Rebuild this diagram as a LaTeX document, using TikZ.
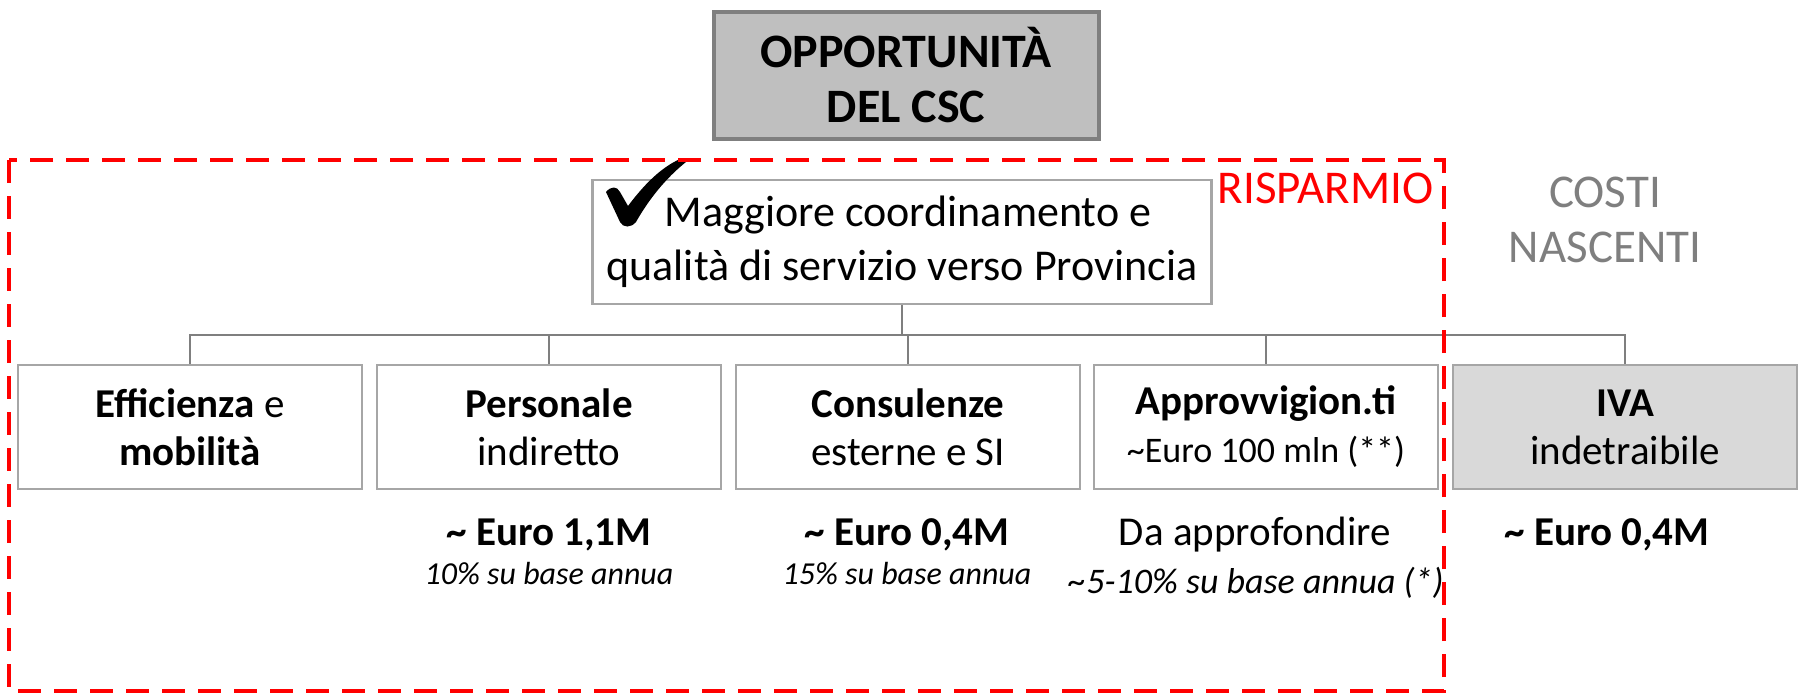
\documentclass[tikz,border=0pt]{standalone}
\usepackage{fontspec}
\setmainfont{Carlito}
\definecolor{boxgray}{HTML}{A6A6A6}
\definecolor{linegray}{HTML}{7F7F7F}
\definecolor{titlefill}{HTML}{BFBFBF}
\definecolor{ivafill}{HTML}{D9D9D9}
\definecolor{rred}{HTML}{FF0000}
\begin{document}
\begin{tikzpicture}[x=1pt,y=-1pt,
  box/.style={draw=boxgray, line width=2.5pt, minimum width=344pt, minimum height=124pt,
    align=center, inner sep=0pt, font=\fontsize{41}{48}\selectfont},
  conn/.style={draw=linegray, line width=2pt},
  amount/.style={font=\bfseries\fontsize{41}{48}\selectfont},
  note/.style={font=\itshape\fontsize{32}{40}\selectfont},
  big/.style={font=\fontsize{47}{55}\selectfont, align=center}]
\useasboundingbox (0,0) rectangle (1800,694);

% title
\node[draw=linegray, line width=4pt, fill=titlefill, minimum width=385pt, minimum height=127pt,
  align=center, font=\bfseries\fontsize{48}{55}\selectfont] (title) at (906,75) {OPPORTUNITÀ\\DEL CSC};

% labels
\node[big, anchor=base east, text=rred] (ris) at (1437,203) {RISPARMIO};
\node[big, text=linegray] (costi) at (1605,220) {COSTI\\NASCENTI};

% main box
\node[draw=boxgray, line width=2.5pt, minimum width=619pt, minimum height=124pt, align=center,
  inner sep=0pt, font=\fontsize{44}{54}\selectfont] (mag) at (902,242)
  {\hspace*{12pt}Maggiore coordinamento e\\qualità di servizio verso Provincia};
% check mark
\fill (606,192) .. controls (611,186) and (617,186) .. (620,192) -- (628,206)
  .. controls (643,186) and (660,168) .. (680,159) -- (686,162)
  .. controls (666,178) and (649,199) .. (636,222)
  .. controls (631,228) and (623,228) .. (620,222) -- cycle;

% boxes
\node[box] (b1) at (190,427) {\textbf{Efficienza} e\\\textbf{mobilità}};
\node[box] (b2) at (549,427) {\textbf{Personale}\\indiretto};
\node[box] (b3) at (908,427) {\textbf{Consulenze}\\esterne e SI};
\node[box] (b4) at (1266,427) {\textbf{Approvvigion.ti}\\{\fontsize{36}{48}\selectfont\textasciitilde Euro 100 mln (**)}};
\node[box, fill=ivafill] (b5) at (1625,427) {\textbf{IVA}\\indetraibile};

% connectors
\coordinate (j) at (902,335);
\draw[conn] (mag.south) -- (j);
\draw[conn] (b1.north) |- (j) -| (b5.north);
\draw[conn] (b2.north) -- (b2.north |- j);
\draw[conn] (b3.north) -- (b3.north |- j);
\draw[conn] (b4.north) -- (b4.north |- j);

% amounts
\node[amount] (a2) at (549,535) {\textasciitilde{} Euro 1,1M};
\node[note] (n2) at (549,574) {10\% su base annua};
\node[amount] (a3) at (907,535) {\textasciitilde{} Euro 0,4M};
\node[note] (n3) at (907,574) {15\% su base annua};
\node[font=\fontsize{41}{48}\selectfont] (a4) at (1255,535) {Da approfondire};
\node[note, font=\itshape\fontsize{36}{44}\selectfont] (n4) at (1256,583) {\textasciitilde5-10\% su base annua (*)};
\node[amount] (a5) at (1607,535) {\textasciitilde{} Euro 0,4M};

% red dashed region
\draw[rred, line width=4.8pt, dash pattern=on 23pt off 13pt] (9,160) rectangle (1444,691);
\end{tikzpicture}
\end{document}
